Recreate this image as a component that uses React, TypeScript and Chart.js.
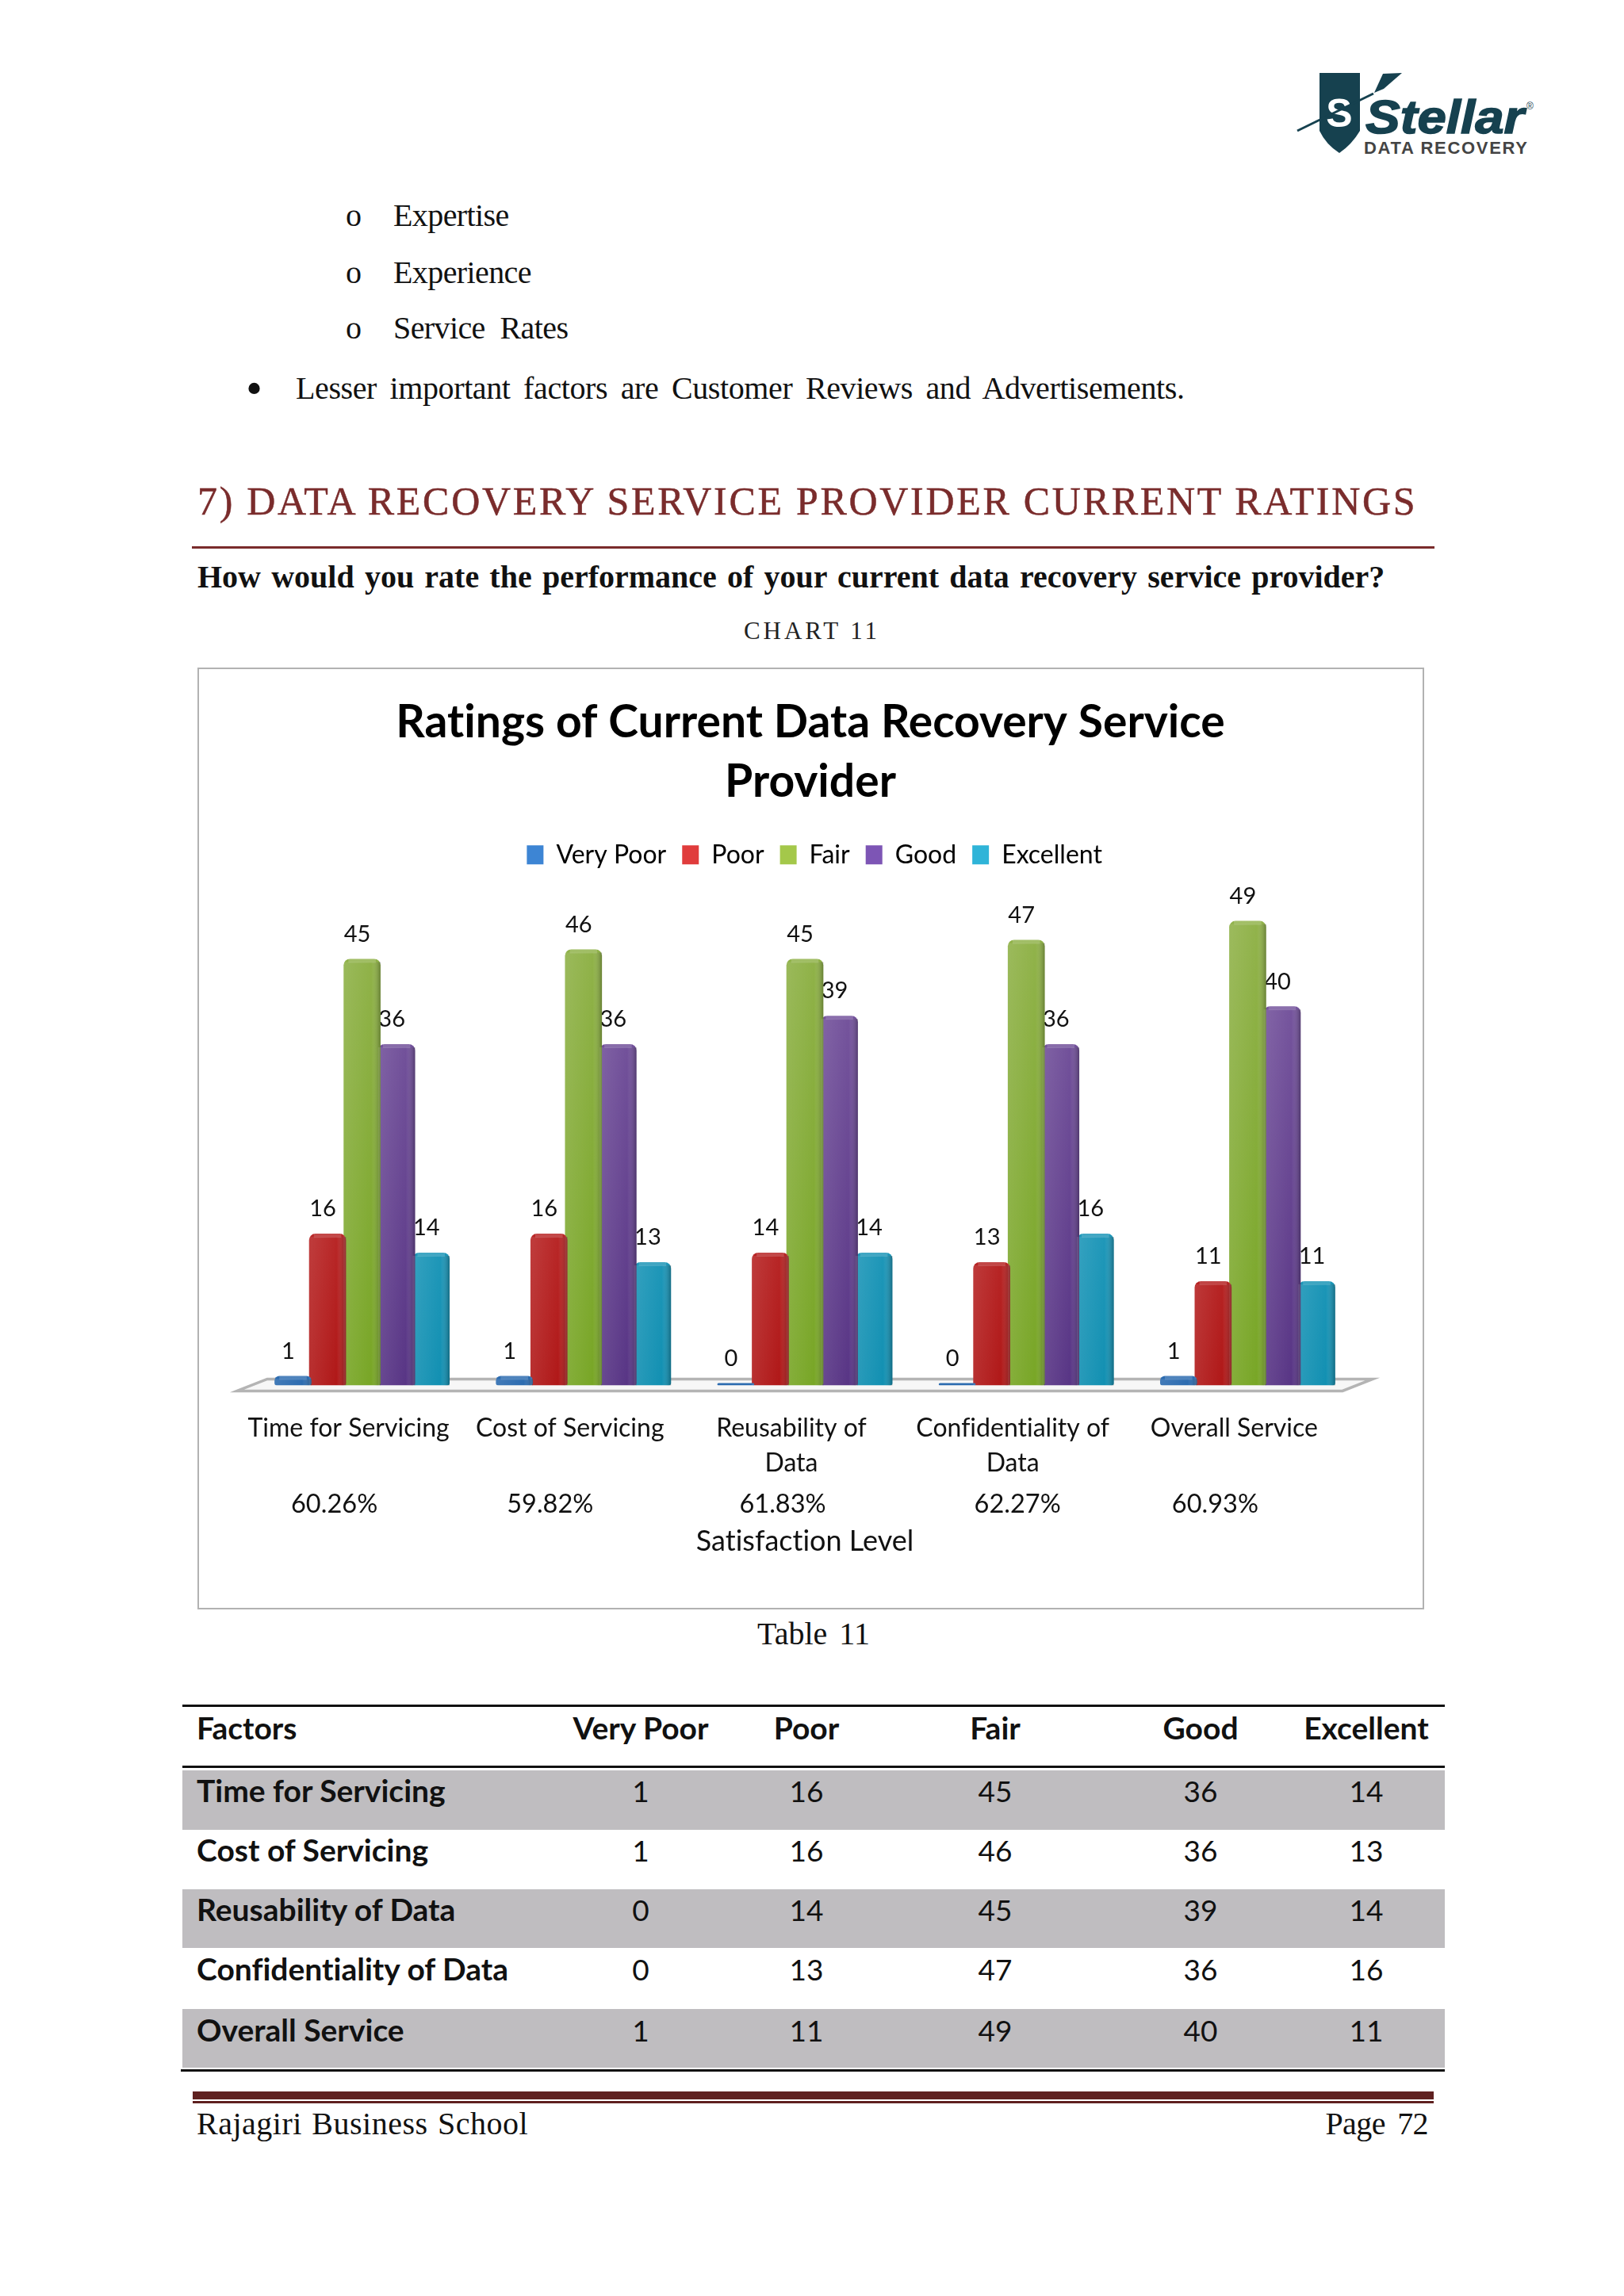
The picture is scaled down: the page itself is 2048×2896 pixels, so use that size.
import React, { useEffect, useRef } from "react";
import { Chart, registerables } from "chart.js";

Chart.register(...registerables);

const categories = ["Time for Servicing", "Cost of Servicing", "Reusability of Data", "Confidentiality of Data", "Overall Service"];
const tickLabels = [["Time for Servicing"], ["Cost of Servicing"], ["Reusability of", "Data"], ["Confidentiality of", "Data"], ["Overall Service"]];
const seriesNames = ["Very Poor", "Poor", "Fair", "Good", "Excellent"];
const veryPoor = [1, 1, 0, 0, 1];
const poor = [16, 16, 14, 13, 11];
const fair = [45, 46, 45, 47, 49];
const good = [36, 36, 39, 36, 40];
const excellent = [14, 13, 14, 16, 11];
const satisfaction = ["60.26%", "59.82%", "61.83%", "62.27%", "60.93%"];
const allSeries = [veryPoor, poor, fair, good, excellent];

const topColors = ["#4a86c8", "#cc4b4b", "#94b44f", "#7f5fa5", "#3fa9c9"];
const bottomColors = ["#2d6cb0", "#b01818", "#78a626", "#583585", "#1290b2"];
const legendColors = ["#3d85d4", "#e03c3c", "#a4c84a", "#7d55b5", "#2fb4d8"];
const satisfactionShift = [-27, -34, -20, -3, -33];

const FONT = "Lato, Carlito, sans-serif";
const SERIF = "'Liberation Serif', serif";

const chrome = {
  id: "chrome",
  beforeDraw(chart: any) {
    chart.ctx.letterSpacing = "0.01px";
  },
  afterLayout(chart: any) {
    const t = chart.titleBlock;
    if (t) {
      t.left += 7;
      t.right += 7;
    }
    const l = chart.legend;
    if (l) {
      l.left += 12;
      l.right += 12;
    }
  },
  beforeDatasetsDraw(chart: any) {
    const { ctx, chartArea: a } = chart;
    const y = a.bottom;
    ctx.save();
    ctx.beginPath();
    ctx.moveTo(a.left - 18, y + 7);
    ctx.lineTo(a.left + 20, y - 8);
    ctx.lineTo(a.right + 18, y - 8);
    ctx.lineTo(a.right - 20, y + 7);
    ctx.closePath();
    ctx.fillStyle = "#f7f7f7";
    ctx.fill();
    ctx.lineWidth = 3.5;
    ctx.strokeStyle = "#b4b4b4";
    ctx.stroke();
    chart.data.datasets.forEach((ds: any, i: number) => {
      chart.getDatasetMeta(i).data.forEach((bar: any, j: number) => {
        ctx.fillStyle = "#111";
        ctx.font = `29px ${FONT}`;
        ctx.textAlign = "center";
        ctx.textBaseline = "middle";
        ctx.fillText(String(ds.data[j]), bar.x - 6, bar.y - 31);
      });
    });
    ctx.restore();
  },
  afterDatasetsDraw(chart: any) {
    const { ctx, scales } = chart;
    ctx.save();
    chart.data.datasets.forEach((ds: any, i: number) => {
      chart.getDatasetMeta(i).data.forEach((bar: any) => {
        const w = bar.width;
        const left = bar.x - w / 2;
        const h = bar.base - bar.y;
        if (h > 6) {
          const g = ctx.createLinearGradient(left, 0, left + w, 0);
          g.addColorStop(0, "rgba(255,255,255,0.10)");
          g.addColorStop(0.75, "rgba(255,255,255,0)");
          g.addColorStop(1, "rgba(0,0,0,0.28)");
          ctx.fillStyle = g;
          ctx.fillRect(left, bar.y + 4, w, h - 4);
          ctx.fillStyle = "rgba(255,255,255,0.16)";
          ctx.fillRect(left + 6, bar.y, w - 12, 5);
        }
      });
    });
    ctx.font = `32.5px ${FONT}`;
    ctx.fillStyle = "#111";
    ctx.textAlign = "center";
    ctx.textBaseline = "middle";
    satisfaction.forEach((s, i) => {
      ctx.fillText(s, scales.x.getPixelForTick(i) + satisfactionShift[i] - 8, chart.chartArea.bottom + 150);
    });
    ctx.restore();
  },
};

function barGradient(i: number) {
  return (c: any) => {
    const a = c.chart.chartArea;
    if (!a) return topColors[i];
    const g = c.chart.ctx.createLinearGradient(0, a.top, 0, a.bottom);
    g.addColorStop(0, topColors[i]);
    g.addColorStop(1, bottomColors[i]);
    return g;
  };
}

function BarChart() {
  const ref = useRef<HTMLCanvasElement>(null);
  useEffect(() => {
    const chart = new Chart(ref.current as HTMLCanvasElement, {
      type: "bar",
      data: {
        labels: tickLabels as any,
        datasets: seriesNames.map((name, i) => ({
          label: name,
          data: allSeries[i],
          backgroundColor: barGradient(i),
          borderWidth: 0,
          borderRadius: { topLeft: 8, topRight: 8, bottomLeft: 3, bottomRight: 3 },
          borderSkipped: false,
          minBarLength: 3,
          categoryPercentage: 0.78,
          barPercentage: 1.07,
        })),
      },
      plugins: [chrome],
      options: {
        responsive: false,
        animation: false,
        devicePixelRatio: 1,
        layout: { padding: { left: 66, right: 81, top: 0, bottom: 62 } },
        plugins: {
          title: {
            display: true,
            text: ["Ratings of Current Data Recovery Service", "Provider"],
            font: { family: FONT, size: 57, weight: "bold", lineHeight: 1.3 },
            color: "#000",
            padding: { top: 31, bottom: 19 },
          },
          legend: {
            display: true,
            position: "top",
            labels: {
              font: { family: FONT, size: 32 },
              color: "#111",
              boxWidth: 21,
              boxHeight: 24,
              padding: 20,
              generateLabels: () =>
                seriesNames.map((name, i) => ({
                  text: name,
                  fillStyle: legendColors[i],
                  strokeStyle: legendColors[i],
                  lineWidth: 0,
                  datasetIndex: i,
                })),
            },
          },
          tooltip: { enabled: false },
        },
        scales: {
          y: { display: false, min: 0, max: 53.8, grid: { display: false } },
          x: {
            grid: { display: false, drawTicks: false },
            border: { display: false },
            ticks: {
              color: "#111",
              font: { family: FONT, size: 32, lineHeight: 1.35 },
              maxRotation: 0,
              minRotation: 0,
              autoSkip: false,
              labelOffset: -17,
              padding: 33,
            },
            title: {
              display: true,
              text: "Satisfaction Level",
              color: "#111",
              font: { family: FONT, size: 36 },
              padding: { top: 23, bottom: 0 },
            },
          },
        },
      },
    } as any);
    return () => chart.destroy();
  }, []);
  return <canvas ref={ref} width={1543} height={1184} style={{ display: "block" }} />;
}

const abs = (x: number, y: number, extra: React.CSSProperties = {}): React.CSSProperties => ({
  position: "absolute",
  left: x,
  top: y,
  transform: "translateY(-50%)",
  whiteSpace: "pre",
  lineHeight: 1,
  ...extra,
});

const rowCenters = [2258, 2333, 2408, 2483, 2560];
const rowBands: [number, number][] = [[2233, 2308], [2383, 2457], [2534, 2608]];
const colCenters = [808, 1017, 1255, 1514, 1723];

function Logo() {
  return (
    <svg style={{ position: "absolute", left: 1630, top: 85, width: 320, height: 120 }} viewBox="1630 85 320 120">
      <path d="M1664 92 H1715 V165 Q1705 182 1689 193 Q1672 182 1664 165 Z" fill="#16414f" />
      <text x="1689" y="160" textAnchor="middle" fill="#fff" fontFamily="Liberation Sans" fontWeight="bold" fontSize="50">S</text>
      <line x1="1636" y1="165" x2="1732" y2="118" stroke="#16414f" strokeWidth="3" />
      <path d="M1733 117 L1744 93 L1768 92 L1745 112 Z" fill="#16414f" />
      <text x="1722" y="168" fill="#16414f" stroke="#16414f" strokeWidth="1.5" fontFamily="Liberation Sans" fontWeight="bold" fontStyle="italic" fontSize="60" textLength="200" lengthAdjust="spacingAndGlyphs">Stellar</text>
      <text x="1925" y="138" fill="#16414f" fontFamily="Liberation Sans" fontSize="12">®</text>
      <text x="1720" y="194" fill="#444" fontFamily="Liberation Sans" fontWeight="bold" fontSize="22" textLength="206" lengthAdjust="spacing">DATA RECOVERY</text>
    </svg>
  );
}

export default function App() {
  const bodyText: React.CSSProperties = { fontFamily: SERIF, fontSize: 40, color: "#111", letterSpacing: -0.6 };
  const cell: React.CSSProperties = { fontFamily: FONT, fontSize: 37, color: "#111", fontVariantLigatures: "none" };
  const bold: React.CSSProperties = { ...cell, fontSize: 39, fontWeight: "bold" };
  return (
    <div style={{ position: "absolute", left: 0, top: 0, width: 2048, height: 2896, background: "#fff", overflow: "hidden" }}>
      <Logo />
      {["Expertise", "Experience", "Service  Rates"].map((t, i) => (
        <React.Fragment key={t}>
          <div style={abs(436, [272, 344, 414][i], { ...bodyText })}>o</div>
          <div style={abs(496, [272, 344, 414][i], { ...bodyText })}>{t}</div>
        </React.Fragment>
      ))}
      <div style={abs(310, 490, { ...bodyText, fontSize: 60 })}>•</div>
      <div style={abs(373, 490, { ...bodyText, letterSpacing: -0.4, wordSpacing: 7 })}>Lesser important factors are Customer Reviews and Advertisements.</div>

      <div style={abs(249, 632, { fontFamily: SERIF, fontSize: 50, color: "#7a2c2c", letterSpacing: 2.7, WebkitTextStroke: "0.5px #7a2c2c" })}>7) DATA RECOVERY SERVICE PROVIDER CURRENT RATINGS</div>
      <div style={{ position: "absolute", left: 242, top: 689, width: 1567, height: 3, background: "#7a2c2c" }} />
      <div style={abs(249, 728, { fontFamily: SERIF, fontSize: 40, fontWeight: "bold", color: "#111", wordSpacing: 3.2 })}>How would you rate the performance of your current data recovery service provider?</div>
      <div style={abs(1024, 795, { fontFamily: SERIF, fontSize: 31, color: "#222", letterSpacing: 4, transform: "translate(-50%,-50%)" })}>CHART 11</div>

      <div style={{ position: "absolute", left: 249, top: 842, width: 1543, height: 1184, border: "2px solid #b2b2b2" }}>
        <BarChart />
      </div>

      <div style={abs(1026, 2061, { ...bodyText, wordSpacing: 5, letterSpacing: 0, transform: "translate(-50%,-50%)" })}>Table 11</div>

      {rowBands.map(([a, b]) => (
        <div key={a} style={{ position: "absolute", left: 230, top: a, width: 1592, height: b - a, background: "#bfbdc0" }} />
      ))}
      <div style={{ position: "absolute", left: 230, top: 2150, width: 1592, height: 3, background: "#111" }} />
      <div style={{ position: "absolute", left: 230, top: 2227, width: 1592, height: 3, background: "#111" }} />
      <div style={{ position: "absolute", left: 228, top: 2610, width: 1594, height: 3, background: "#111" }} />
      <div style={abs(248, 2179, bold)}>Factors</div>
      {seriesNames.map((s, i) => (
        <div key={s} style={abs(colCenters[i], 2179, { ...bold, transform: "translate(-50%,-50%)" })}>{s}</div>
      ))}
      {categories.map((c, r) => (
        <React.Fragment key={c}>
          <div style={abs(248, rowCenters[r], bold)}>{c}</div>
          {allSeries.map((s, i) => (
            <div key={i} style={abs(colCenters[i], rowCenters[r], { ...cell, transform: "translate(-50%,-50%)" })}>{s[r]}</div>
          ))}
        </React.Fragment>
      ))}

      <div style={{ position: "absolute", left: 243, top: 2638, width: 1565, height: 10, background: "#5f2120" }} />
      <div style={{ position: "absolute", left: 243, top: 2650, width: 1565, height: 3, background: "#5f2120" }} />
      <div style={abs(248, 2679, { ...bodyText, letterSpacing: 0.5, wordSpacing: 2 })}>Rajagiri Business School</div>
      <div style={abs(1801, 2679, { ...bodyText, wordSpacing: 6, transform: "translate(-100%,-50%)" })}>Page 72</div>
    </div>
  );
}
